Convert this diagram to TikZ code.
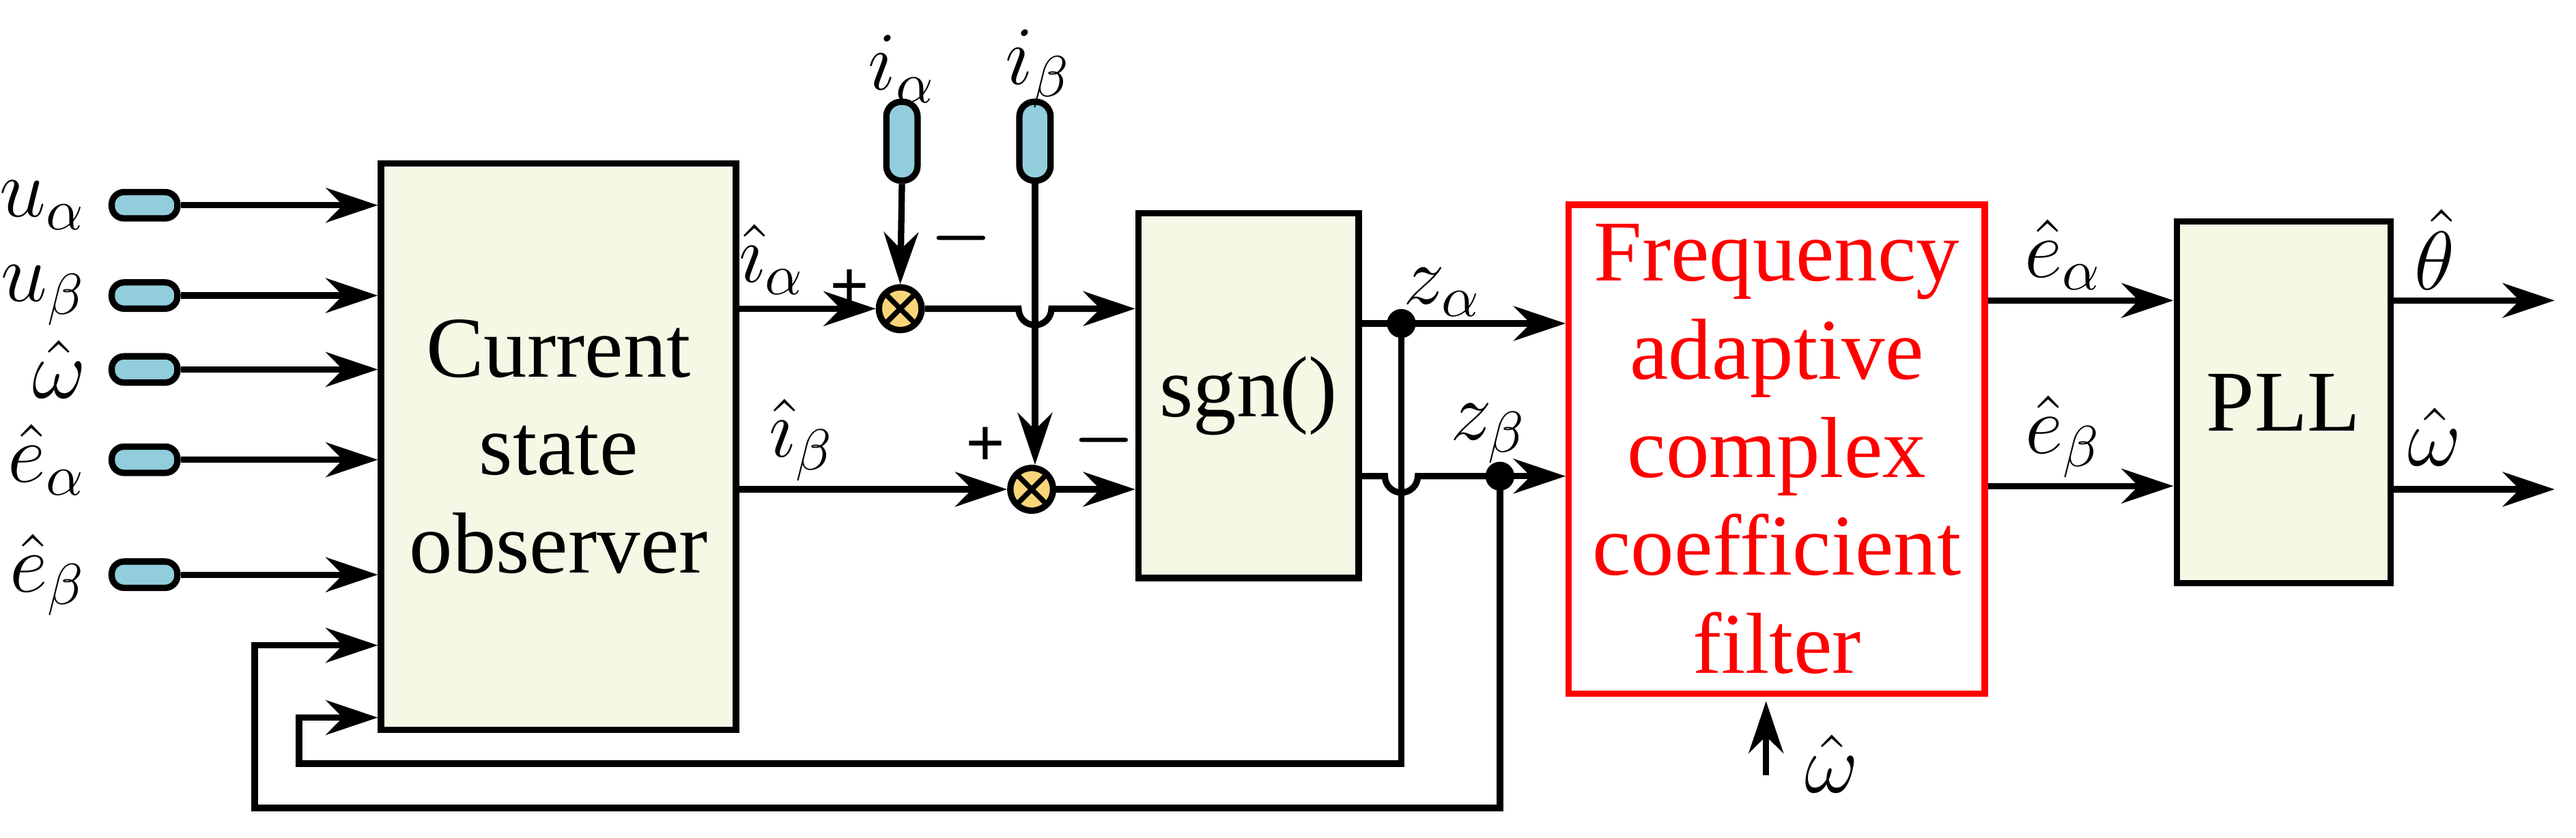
\documentclass[tikz,border=0pt]{standalone}
\usepackage{fontspec}
\setmainfont{Liberation Serif}
\usepackage{amsmath}
\usetikzlibrary{arrows.meta}
\definecolor{pillc}{HTML}{92CDDC}
\definecolor{blk}{HTML}{F7F7E6}
\definecolor{sumc}{HTML}{F9D57A}
\begin{document}
\begin{tikzpicture}[x=0.01cm,y=-0.01cm,
  >={Stealth[length=9pt,width=6pt]}, line width=1.1pt,
  hpill/.style={draw, line width=1.1pt, fill=pillc, rounded corners=0.075cm, minimum width=0.40cm, minimum height=0.16cm, inner sep=0pt},
  vpill/.style={draw, line width=1.1pt, fill=pillc, rounded corners=0.09cm, minimum width=0.19cm, minimum height=0.48cm, inner sep=0pt},
  block/.style={draw, line width=1.1pt, fill=blk, align=center, font=\fontsize{15}{17}\selectfont},
  sum/.style={circle, draw, line width=1.1pt, fill=sumc, minimum size=0.26cm, inner sep=0pt,
    path picture={\draw[line width=0.9pt] ([shift={(-45:0.13cm)}]path picture bounding box.center)--([shift={(135:0.13cm)}]path picture bounding box.center) ([shift={(45:0.13cm)}]path picture bounding box.center)--([shift={(-135:0.13cm)}]path picture bounding box.center);}},
  lab/.style={font=\fontsize{14.5}{16}\selectfont},
  dot/.style={circle, fill, inner sep=0pt, minimum size=5pt}]
\useasboundingbox (0,0) rectangle (1568,510);
% blocks
\node[block, minimum width=2.16cm, minimum height=3.45cm] (cso) at (340,272) {Current\\state\\observer};
\node[block, minimum width=1.34cm, minimum height=2.22cm] (sgn) at (760,241) {sgn()};
\node[block, draw=red, fill=white, text=red, minimum width=2.53cm, minimum height=2.97cm] (faf) at (1081.5,273.5) {Frequency\\adaptive\\complex\\coefficient\\filter};
\node[block, minimum width=1.3cm, minimum height=2.2cm] (pll) at (1390,245) {PLL};
% inputs
\foreach \n/\y/\t in {ua/125/u_\alpha, ub/180/u_\beta, w/225/\hat\omega, ea/280/\hat e_\alpha, eb/350/\hat e_\beta}{
  \node[hpill] (p\n) at (88,\y) {};
  \node[lab, anchor=east] at (66,\y) {$\t$};
  \draw[->] (p\n.east) -- (p\n.east -| cso.west);
}
% sums
\node[sum] (s1) at (548,188) {};
\node[sum] (s2) at (628,298) {};
\node[vpill] (pia) at (549,86) {};
\node[vpill] (pib) at (630,86) {};
\node[lab] at (549,42) {$i_\alpha$};
\node[lab] at (632,42) {$i_\beta$};
\draw[->] (pia.south) -- (s1.north);
\draw[->] (pib.south) -- (pib.south |- s2.north);
\draw[->] (448,188) -- (s1.west);
\node[lab] at (470,158) {$\hat{\imath}_\alpha$};
\draw[->] (448,298) -- (s2.west);
\node[lab] at (488,268) {$\hat{\imath}_\beta$};
\node[font=\bfseries\large] at (517,176) {+};
\node[font=\bfseries\large] at (585,145) {$\boldsymbol{-}$};
\node[font=\bfseries\large] at (600,272) {+};
\node[font=\bfseries\large] at (672,268) {$\boldsymbol{-}$};
\draw[->] (s1.east) -- (620,188) arc (180:0:10) -- (sgn.west |- 0,188);
\draw[->] (s2.east) -- (sgn.west |- 0,298);
% sgn outputs
\coordinate (za) at (853,197);
\coordinate (zb) at (913,290);
\draw[->] (827,197) -- (faf.west |- 0,197);
\node[dot] at (za) {};
\draw (827,290) -- (843,290) arc (180:0:10) -- (zb);
\draw[->] (zb) -- (faf.west |- 0,290);
\node[dot] at (zb) {};
\node[lab] at (878,178) {$z_\alpha$};
\node[lab] at (906,264) {$z_\beta$};
% feedback
\draw[->] (za) -- (853,465) -- (182,465) -- (182,437) -- (cso.west |- 0,437);
\draw[->] (zb) -- (913,492) -- (155,492) -- (155,393) -- (cso.west |- 0,393);
% omega in
\coordinate (win) at (1075,472);
\draw[->] (win) -- (1075,427);
\node[lab] at (1115,465) {$\hat\omega$};
% filter outputs
\draw[->] (faf.east |- 0,183) -- (pll.west |- 0,183);
\draw[->] (faf.east |- 0,296) -- (pll.west |- 0,296);
\node[lab] at (1256,155) {$\hat e_\alpha$};
\node[lab] at (1256,266) {$\hat e_\beta$};
\coordinate (o1) at (1555,183);
\coordinate (o2) at (1555,298);
\draw[->] (pll.east |- o1) -- (o1);
\draw[->] (pll.east |- o2) -- (o2);
\node[lab] at (1482,152) {$\hat\theta$};
\node[lab] at (1482,266) {$\hat\omega$};
\end{tikzpicture}
\end{document}
